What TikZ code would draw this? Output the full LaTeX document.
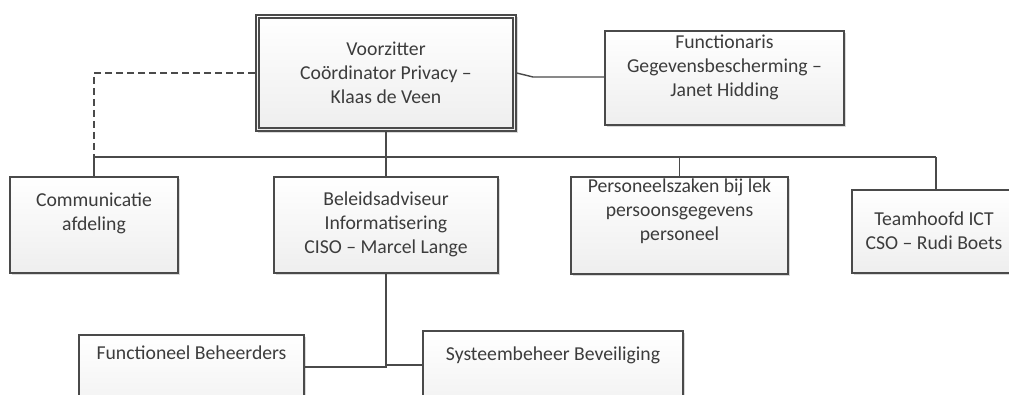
\documentclass[tikz,border=0pt]{standalone}
\usepackage{fontspec}
\setmainfont{Carlito}
\usetikzlibrary{shadows,calc}
\definecolor{lc}{HTML}{4A4A4A}
\definecolor{tc}{HTML}{3C3C3C}
\definecolor{bot}{HTML}{EEEEEE}
\tikzset{
  box/.style={draw=lc, line width=1.6pt, top color=white, bottom color=bot, inner sep=0pt,
    drop shadow={shadow xshift=1.6pt, shadow yshift=-1.6pt, fill=black, opacity=0.15}},
  txt/.style={text=tc, align=center, inner sep=0pt, font=\fontsize{19.7}{24}\selectfont},
  conn/.style={draw=lc, line width=1.4pt},
  dashconn/.style={conn, dash pattern=on 7pt off 4pt}
}
\begin{document}
\begin{tikzpicture}[x=1pt,y=-1pt]
\useasboundingbox (0,0) rectangle (1009,394);
\fill[white] (0,0) rectangle (1009,394);
% boxes
\node[box, minimum width=260pt, minimum height=116pt] (vz) at (386,73) {};
\draw[draw=lc, line width=1.6pt] ([shift={(4pt,-4pt)}]vz.north west) rectangle ([shift={(-4pt,4pt)}]vz.south east);
\node[txt] (vzT) at (386,73) {Voorzitter\\Coördinator Privacy –\\Klaas de Veen};

\node[box, minimum width=239pt, minimum height=94pt] (fg) at (724.5,78) {};
\node[txt] (fgT) at (724.5,67) {Functionaris\\Gegevensbescherming –\\Janet Hidding};

\node[box, minimum width=168pt, minimum height=96pt] (comm) at (94,225) {};
\node[txt] (commT) at (94,213) {Communicatie\\afdeling};

\node[box, minimum width=224pt, minimum height=96pt] (bel) at (386,225) {};
\node[txt] (belT) at (386,224) {Beleidsadviseur\\Informatisering\\CISO – Marcel Lange};

\node[box, minimum width=217pt, minimum height=97pt] (pz) at (679.5,225.5) {};
\node[txt] (pzT) at (679.5,211) {Personeelszaken bij lek\\persoonsgegevens\\personeel};

\node[box, minimum width=168pt, minimum height=83pt] (th) at (936,231.5) {};
\node[txt] (thT) at (934,231) {Teamhoofd ICT\\CSO – Rudi Boets};

\node[box, minimum width=225pt, minimum height=96pt] (fb) at (191.5,383) {};
\node[txt] (fbT) at (191.5,353) {Functioneel Beheerders};

\node[box, minimum width=260pt, minimum height=96pt] (sb) at (553,379) {};
\node[txt] (sbT) at (553,355) {Systeembeheer Beveiliging};

% connectors
\coordinate (k1) at (533,77);
\draw[conn] (vz.east) -- (k1) -- (k1 -| fg.west);

\coordinate (busL) at (94,157);
\coordinate (busR) at (936,157);
\draw[dashconn] (vz.west) -| (busL);
\draw[conn] (busL) -- (busR);
\draw[conn] (busL) -- (comm.north);
\draw[conn] (vz.south) -- (bel.north);
\draw[conn] (pz.north |- busL) -- (pz.north);
\draw[conn] (busR) -- (th.north);

\coordinate (fbin) at (304,367);
\coordinate (sbin) at (423,365);
\draw[conn] (bel.south) |- (fbin);
\draw[conn] (bel.south |- sbin) -- (sbin);
\end{tikzpicture}
\end{document}
